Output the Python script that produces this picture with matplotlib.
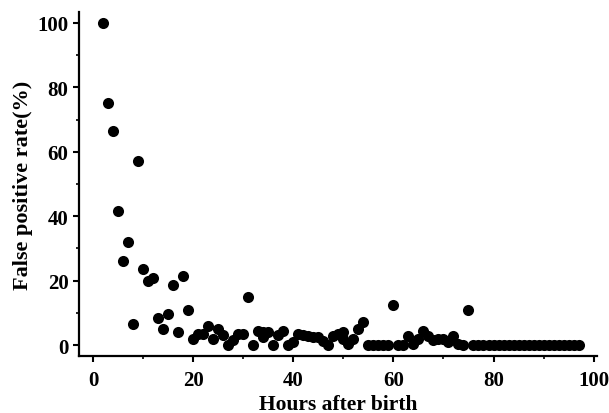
import matplotlib
matplotlib.use("Agg")
import matplotlib.pyplot as plt
from matplotlib.ticker import MultipleLocator

hours = list(range(2, 98))
rate = [100, 75, 66.5, 41.5, 26, 32, 6.5, 57, 23.5, 20, 20.7, 8.3, 5, 9.6, 18.6, 3.9, 21.3, 10.9,
        2, 3.5, 3.5, 6, 2, 5, 3, 0, 1.5, 3.5, 3.3, 14.8, 0, 4.4, 2.5, 4.2, 0, 3, 4.4, 0, 1,
        3.4, 3, 2.9, 2.4, 2.4, 1.3, 0, 2.9, 3.4, 1.9, 0.3, 1.9, 5, 7, 0, 0, 0, 0, 0, 12.5,
        0, 0, 2.9, 0.3, 1.9, 4.4, 2.9, 1.5, 2, 1.9, 1, 2.9, 0.3, 0, 11] + [0] * 22
extra_hours = [50, 34]
extra_rate = [4, 4]

plt.rcParams['font.family'] = ['Liberation Serif', 'DejaVu Serif']
plt.rcParams['font.weight'] = 'bold'

fig = plt.figure(figsize=(6.09, 4.14), dpi=100)
ax = fig.add_axes([0.1297, 0.1377, 0.850, 0.831])
ax.plot(hours, rate, 'o', color='black', markersize=8, markeredgewidth=0)
ax.plot(extra_hours, extra_rate, 'o', color='black', markersize=8, markeredgewidth=0)

ax.set_xlim(-2.8, 100.6)
ax.set_ylim(-3.4, 103.4)
ax.xaxis.set_major_locator(MultipleLocator(20))
ax.xaxis.set_minor_locator(MultipleLocator(10))
ax.yaxis.set_major_locator(MultipleLocator(20))
ax.yaxis.set_minor_locator(MultipleLocator(10))
for s in ['top', 'right']:
    ax.spines[s].set_visible(False)
for s in ['left', 'bottom']:
    ax.spines[s].set_linewidth(1.6)
ax.tick_params(which='major', direction='out', length=4, width=1.5, labelsize=15)
ax.tick_params(axis='x', which='major', pad=6)
ax.tick_params(which='minor', direction='out', length=2.5, width=1.2)
for lab in ax.get_xticklabels() + ax.get_yticklabels():
    lab.set_fontweight('bold')
ax.set_xlabel('Hours after birth', fontsize=15.5, fontweight='bold', labelpad=3)
ax.set_ylabel('False positive rate(%)', fontsize=16, fontweight='bold', labelpad=3)

fig.savefig('out.png', dpi=100)
